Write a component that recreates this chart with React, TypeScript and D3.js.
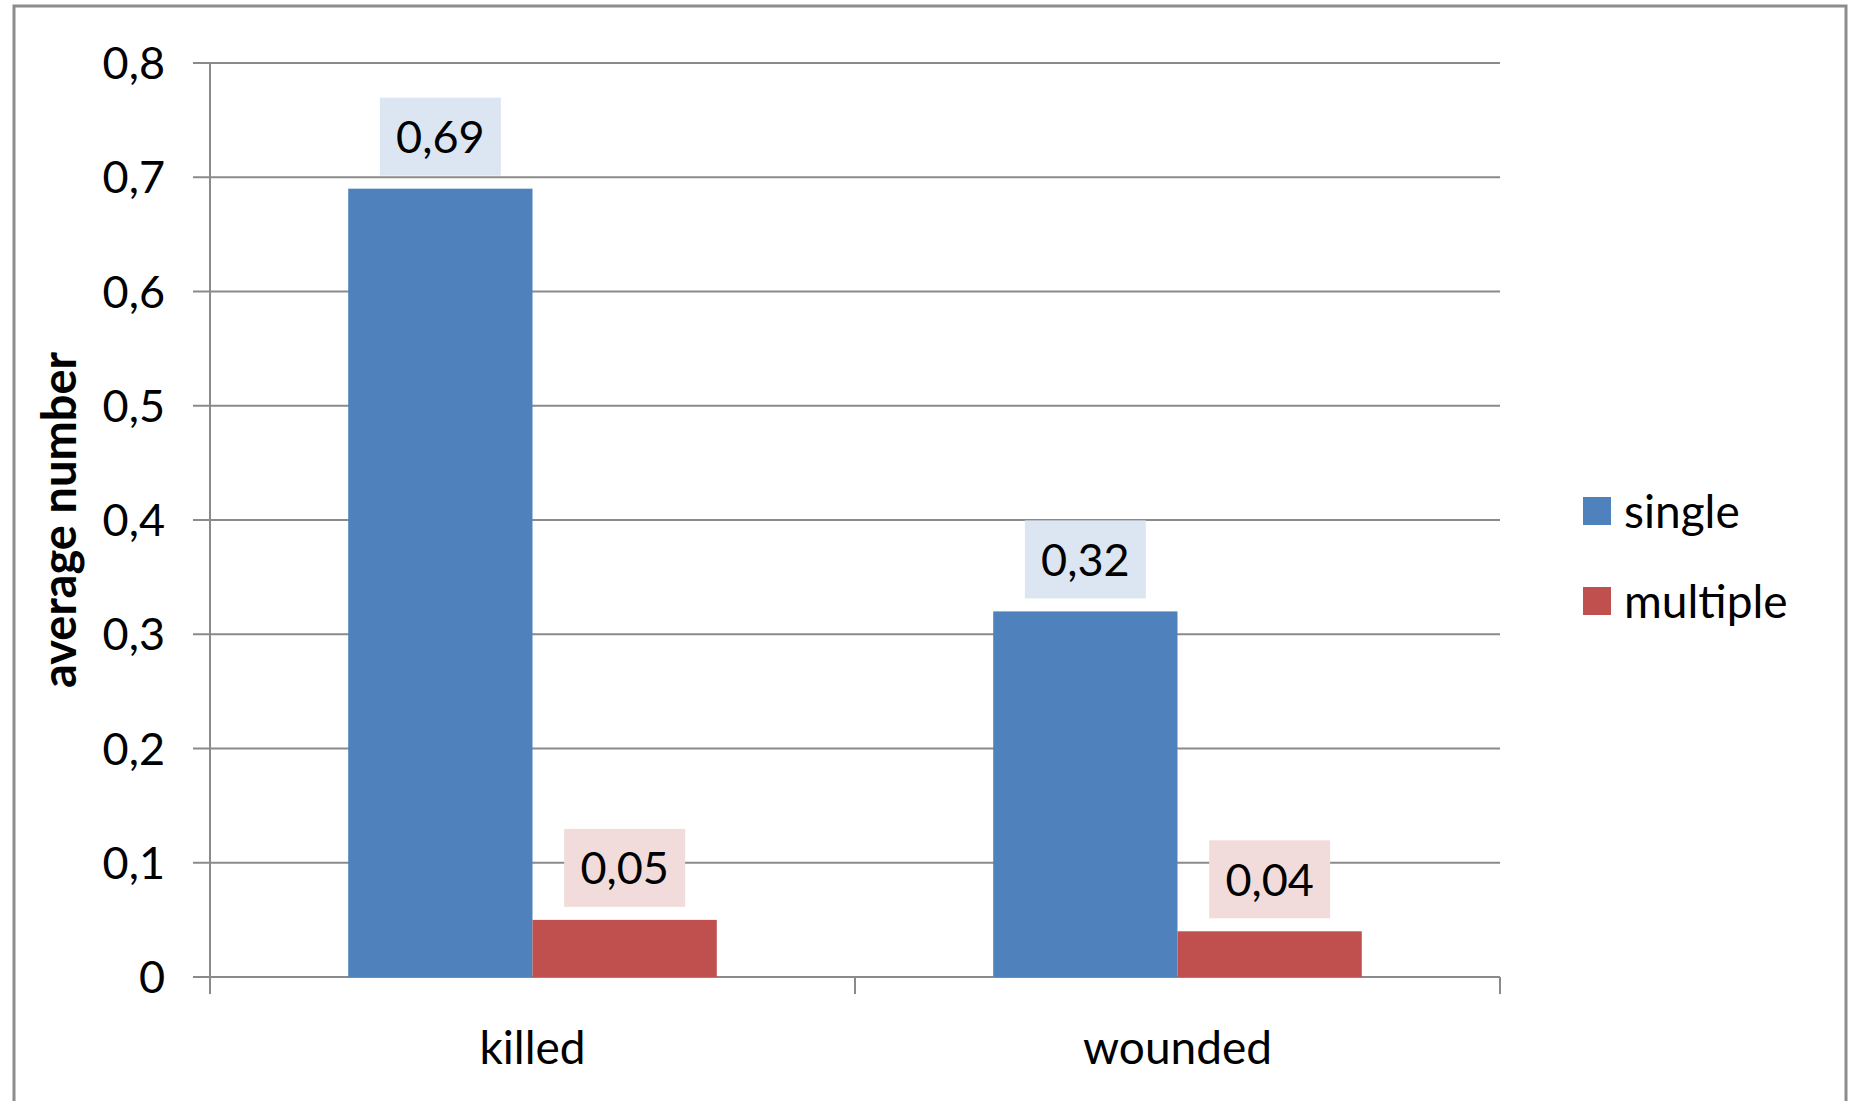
import React from 'react';
import * as d3 from 'd3';

const categories = ['killed', 'wounded'];
const seriesNames = ['single', 'multiple'];
const singleValues = [0.69, 0.32];
const multipleValues = [0.05, 0.04];
const yTicks = [0, 0.1, 0.2, 0.3, 0.4, 0.5, 0.6, 0.7, 0.8];

const colors = ['#4f81bd', '#c0504d'];
const labelFills = ['#dce6f2', '#f2dcdb'];
const font = 'Lato, "Open Sans", sans-serif';
const fmt = (v: number) => String(v).replace('.', ',');

const W = 1855;
const H = 1101;
const plot = { left: 210, right: 1500, top: 63, bottom: 977 };

const App: React.FC = () => {
    const series = [singleValues, multipleValues];

    const y = d3.scaleLinear().domain([0, 0.8]).range([plot.bottom, plot.top]);
    const x = d3.scaleBand<string>().domain(categories).range([plot.left, plot.right]).paddingInner(0).paddingOuter(0);
    // excel default gap width 150%
    const barW = x.bandwidth() / 3.5;
    const inner = d3.scaleBand<string>().domain(seriesNames).range([0, barW * 2]);

    const boxW = 121;
    const boxH = 78;

    return (
        <svg width={W} height={H} style={{ position: 'absolute', left: 0, top: 0, background: '#fff' }}>
            <rect x={14} y={6} width={1832} height={1110} fill="#fff" stroke="#8c8c8c" strokeWidth={3} />

            {/* grid + y ticks */}
            {yTicks.map(t => (
                <g key={t}>
                    <line x1={plot.left - 17} x2={plot.right} y1={y(t)} y2={y(t)} stroke="#8a8a8a" strokeWidth={2} />
                    <text x={165} y={y(t)} dy="0.36em" textAnchor="end" fontFamily={font} fontSize={45} fill="#000">
                        {fmt(t)}
                    </text>
                </g>
            ))}
            <line x1={plot.left} x2={plot.left} y1={plot.top} y2={plot.bottom + 17} stroke="#8a8a8a" strokeWidth={2} />
            {[...categories.map(c => x(c) as number), plot.right].slice(1).map((px, i) => (
                <line key={i} x1={px} x2={px} y1={plot.bottom} y2={plot.bottom + 17} stroke="#8a8a8a" strokeWidth={2} />
            ))}

            {/* bars */}
            {categories.map((c, ci) => {
                const x0 = (x(c) as number) + (x.bandwidth() - barW * 2) / 2;
                return (
                    <g key={c}>
                        {series.map((vals, si) => {
                            const bx = x0 + (inner(seriesNames[si]) as number);
                            const v = vals[ci];
                            const cx = bx + barW / 2;
                            const top = y(v);
                            return (
                                <g key={si}>
                                    <rect x={bx} y={top} width={barW} height={plot.bottom - top} fill={colors[si]} />
                                    <rect x={cx - boxW / 2} y={top - 13 - boxH} width={boxW} height={boxH} fill={labelFills[si]} />
                                    <text x={cx} y={top - 13 - boxH / 2} dy="0.36em" textAnchor="middle" fontFamily={font} fontSize={45} fill="#000">
                                        {fmt(v)}
                                    </text>
                                </g>
                            );
                        })}
                        <text x={(x(c) as number) + x.bandwidth() / 2} y={1047} dy="0.36em" textAnchor="middle" fontFamily={font} fontSize={46} fill="#000">
                            {c}
                        </text>
                    </g>
                );
            })}

            {/* y axis title */}
            <text transform={`translate(59, ${(plot.top + plot.bottom) / 2}) rotate(-90)`} dy="0.36em" textAnchor="middle" fontFamily={font} fontSize={47} fontWeight="bold" fill="#000">
                average number
            </text>

            {/* legend */}
            {seriesNames.map((s, i) => (
                <g key={s} transform={`translate(1583, ${511 + i * 90})`}>
                    <rect x={0} y={-14} width={28} height={28} fill={colors[i]} />
                    <text x={41} y={0} dy="0.36em" fontFamily={font} fontSize={46} fill="#000">{s}</text>
                </g>
            ))}
        </svg>
    );
};

export default App;
